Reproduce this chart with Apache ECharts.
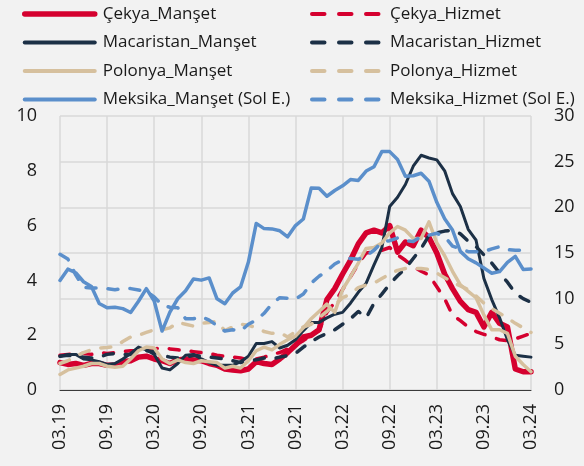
<!DOCTYPE html>
<html>
<head>
<meta charset="utf-8">
<script src="https://cdn.jsdelivr.net/npm/echarts@6/dist/echarts.min.js"></script>
<style>
html,body{margin:0;padding:0;background:#f2f2f2;}
#c{width:584px;height:466px;}
</style>
</head>
<body>
<div id="c"></div>
<script>
const months = ['03.19','04.19','05.19','06.19','07.19','08.19','09.19','10.19','11.19','12.19',
'01.20','02.20','03.20','04.20','05.20','06.20','07.20','08.20','09.20','10.20','11.20','12.20',
'01.21','02.21','03.21','04.21','05.21','06.21','07.21','08.21','09.21','10.21','11.21','12.21',
'01.22','02.22','03.22','04.22','05.22','06.22','07.22','08.22','09.22','10.22','11.22','12.22',
'01.23','02.23','03.23','04.23','05.23','06.23','07.23','08.23','09.23','10.23','11.23','12.23',
'01.24','02.24','03.24'];

const cekyaManset = [3.0,2.8,2.9,2.7,2.9,2.9,2.7,2.7,3.1,3.2,
3.6,3.7,3.4,3.2,2.9,3.3,3.4,3.3,3.2,2.9,2.7,2.3,
2.2,2.1,2.3,3.1,2.9,2.8,3.4,4.1,4.9,5.8,6.0,6.6,
9.9,11.1,12.7,14.2,16.0,17.2,17.5,17.2,18.0,15.1,16.2,15.8,
17.5,16.7,15.0,12.7,11.1,9.7,8.8,8.5,6.9,8.5,7.3,6.9,
2.3,2.0,2.0];

const cekyaHizmet = [3.8,3.9,4.0,4.0,3.9,4.1,4.0,4.1,4.2,4.3,
4.3,4.4,4.5,4.6,4.5,4.4,4.3,4.2,4.1,4.0,3.8,3.7,
3.6,3.5,3.3,3.4,3.6,3.9,4.1,4.5,4.9,5.4,6.0,6.5,
8.5,9.6,11.0,12.4,13.8,15.0,15.1,15.3,15.6,14.8,14.2,13.5,
13.0,12.6,11.3,10.0,8.2,7.6,6.9,6.4,6.1,5.8,5.5,5.4,
5.6,5.9,6.2];

const macaristanManset = [3.7,3.9,3.9,3.4,3.3,3.1,2.8,2.9,3.4,4.0,
4.7,4.4,3.9,2.4,2.2,2.9,3.8,3.9,3.4,3.0,2.7,2.7,
2.7,3.1,3.7,5.1,5.1,5.3,4.6,4.9,5.5,6.5,7.4,7.4,
7.9,8.3,8.5,9.5,10.7,11.7,13.7,15.6,20.1,21.1,22.5,24.5,
25.7,25.4,25.2,24.0,21.5,20.1,17.6,16.4,12.2,9.9,7.9,5.5,
3.8,3.7,3.6];

const macaristanHizmet = [3.7,3.8,3.7,3.6,3.5,3.6,3.9,4.0,3.9,3.9,
4.1,4.3,4.2,3.8,3.6,3.5,3.6,3.8,3.7,3.6,3.5,3.4,
3.2,3.0,3.2,3.3,3.5,3.4,3.6,3.75,4.0,4.7,5.3,5.8,
6.2,6.6,7.2,7.8,8.6,7.9,9.5,10.5,11.6,12.5,13.3,14.4,
15.5,16.9,17.2,17.4,17.5,17.1,16.3,15.7,14.8,13.9,12.8,11.8,
10.6,10.0,9.6];

const polonyaManset = [1.7,2.2,2.4,2.6,2.9,2.9,2.6,2.5,2.6,3.4,
4.3,4.7,4.6,3.4,2.9,3.3,3.0,2.9,3.2,3.1,3.0,2.4,
2.6,2.4,3.2,4.3,4.7,4.4,5.0,5.5,5.9,6.8,7.8,8.6,
9.4,8.5,11.0,12.4,13.9,15.5,15.6,16.1,17.2,17.9,17.5,16.6,
16.6,18.4,16.1,14.7,13.0,11.5,10.8,10.1,8.2,6.6,6.6,6.2,
3.7,2.8,2.0];

const polonyaHizmet = [2.9,3.2,3.7,4.1,4.4,4.6,4.65,4.75,5.3,5.8,
6.0,6.3,6.6,6.6,6.8,7.4,7.2,7.0,7.3,7.4,7.5,6.5,
6.9,7.2,7.1,6.8,6.4,6.2,6.3,5.8,6.4,6.9,7.2,7.9,
8.6,9.3,10.1,10.5,11.2,11.5,11.7,12.2,12.7,13.1,13.3,13.3,
13.3,13.2,12.8,12.3,11.8,11.4,11.0,10.3,9.5,8.9,8.4,7.9,
7.3,6.8,6.3];

const meksikaManset = [4.00,4.41,4.28,3.95,3.78,3.16,3.00,3.02,2.97,2.83,
3.24,3.70,3.25,2.15,2.84,3.33,3.62,4.05,4.01,4.09,3.33,3.15,
3.54,3.76,4.67,6.08,5.89,5.88,5.81,5.59,6.00,6.24,7.37,7.36,
7.07,7.28,7.45,7.68,7.65,7.99,8.15,8.70,8.70,8.41,7.80,7.82,
7.91,7.62,6.85,6.25,5.84,5.06,4.79,4.64,4.45,4.26,4.32,4.66,
4.88,4.40,4.42];

const meksikaHizmet = [4.95,4.78,4.2,3.75,3.72,3.72,3.7,3.66,3.7,3.7,
3.65,3.6,3.4,3.1,3.02,3.0,2.6,2.6,2.68,2.55,2.35,2.15,
2.2,2.15,2.4,2.55,2.8,3.15,3.37,3.35,3.32,3.5,3.9,4.15,
4.35,4.6,4.75,4.8,4.77,4.9,5.1,5.4,5.45,5.55,5.45,5.42,
5.6,5.65,5.72,5.6,5.25,5.15,5.05,5.05,5.05,5.15,5.23,5.12,
5.1,5.1,5.1];

const leftTicks = {min:0, max:10, interval:2};
const rightTicks = {min:0, max:30, interval:5};

const RED='#d5002f', NAVY='#1c3046', BEIGE='#d6c09e', BLUE='#5b8fcb';
const FONT='Open Sans';
const DASH=[10,12];
const LDASH=[12.5,14.5];

function mk(name, data, color, width, dashed, yIdx){
  return {name, type:'line', data, yAxisIndex:yIdx, symbol:'none', smooth:false,
    lineStyle:{color, width, type: dashed?DASH:'solid', cap:'round', join:'round'},
    itemStyle:{color}, emphasis:{disabled:true}};
}

const series = [
  mk('Çekya_Manşet', cekyaManset, RED, 5.5, false, 1),
  mk('Çekya_Hizmet', cekyaHizmet, RED, 3.5, true, 1),
  mk('Macaristan_Manşet', macaristanManset, NAVY, 3, false, 1),
  mk('Macaristan_Hizmet', macaristanHizmet, NAVY, 3.5, true, 1),
  mk('Polonya_Manşet', polonyaManset, BEIGE, 3.5, false, 1),
  mk('Polonya_Hizmet', polonyaHizmet, BEIGE, 3.5, true, 1),
  mk('Meksika_Manşet (Sol E.)', meksikaManset, BLUE, 3.5, false, 0),
  mk('Meksika_Hizmet (Sol E.)', meksikaHizmet, BLUE, 3.5, true, 0)
];

function legItem(name, width, dashed){
  return {name, lineStyle:{width, type: dashed?LDASH:'solid', cap:'round'},
    itemStyle:{opacity:0, color:'transparent', borderWidth:0}};
}
const legText = {fontSize:17, color:'#1a1a1a', fontFamily:FONT, lineHeight:20, padding:[0,0,0,3]};
const legBase = {orient:'vertical', top:4, padding:0, itemWidth:70, itemHeight:20, itemGap:8.5,
  textStyle:legText, selectedMode:false};

const option = {
  animation:false,
  backgroundColor:'#f2f2f2',
  legend:[
    Object.assign({left:22, data:[legItem('Çekya_Manşet',5.5,false),legItem('Macaristan_Manşet',4,false),legItem('Polonya_Manşet',4,false),legItem('Meksika_Manşet (Sol E.)',4,false)]}, legBase),
    Object.assign({left:310, data:[legItem('Çekya_Hizmet',4,true),legItem('Macaristan_Hizmet',4,true),legItem('Polonya_Hizmet',4,true),legItem('Meksika_Hizmet (Sol E.)',4,true)]}, legBase)
  ],
  grid:{left:60, right:53, top:116, bottom:76, containLabel:false},
  xAxis:{type:'category', data:months, boundaryGap:false,
    axisLine:{lineStyle:{color:'#3a3a3a', width:1}},
    axisTick:{show:false},
    axisLabel:{interval:5, rotate:90, fontSize:18, color:'#1a1a1a', margin:14, fontFamily:FONT, padding:[8,0,0,0]},
    splitLine:{show:true, interval:5, lineStyle:{color:'#d9d9d9', width:1.5}}},
  yAxis:[
    {type:'value', position:'left', min:leftTicks.min, max:leftTicks.max, interval:leftTicks.interval,
     axisLine:{show:false}, axisTick:{show:false}, splitLine:{show:false},
     axisLabel:{fontSize:18, color:'#1a1a1a', margin:23, fontFamily:FONT}},
    {type:'value', position:'right', min:rightTicks.min, max:rightTicks.max, interval:rightTicks.interval,
     axisLine:{show:false}, axisTick:{show:false},
     splitLine:{show:true, lineStyle:{color:'#d9d9d9', width:1.5}},
     axisLabel:{fontSize:18, color:'#1a1a1a', margin:23, fontFamily:FONT}}
  ],
  series
};
const chart = echarts.init(document.getElementById('c'), null, {renderer:'canvas'});
chart.setOption(option);
</script>
</body>
</html>
